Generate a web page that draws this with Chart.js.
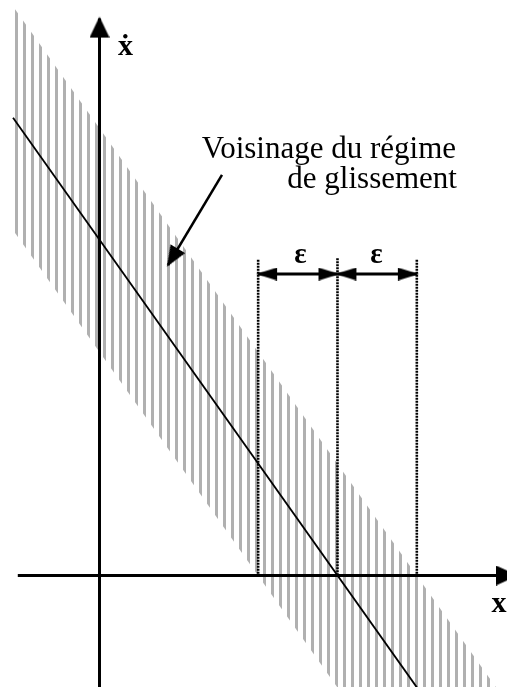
<!DOCTYPE html>
<html><head><meta charset="utf-8">
<script src="https://cdn.jsdelivr.net/npm/chart.js@4/dist/chart.umd.min.js"></script>
<style>html,body{margin:0;padding:0;background:#fff;}canvas{display:block;}</style>
</head><body>
<canvas id="c" width="507" height="687"></canvas>
<script>
// ---- data (units of epsilon) ----
const slidingLineX = [-1.09, 4.0];          // s = 0 : xdot = -1.41 (x - 3)
const slidingLineY = [5.77, -1.41];
const bandX = [-1.08, 5.14];
const bandUpperY = [7.16, -1.61];           // s = +eps
const bandLowerY = [4.34, -4.43];           // s = -eps
const epsBoundsX = [2, 3, 4];
const epsBoundsTop = [3.98, 4.0, 3.98];
const epsArrowY = 3.80;
const xAxisX = [-1.03, 5.25];
const yAxisY = [-1.41, 7.02];
const pointerFrom = [1.544, 5.049];
const pointerTo = [0.8635, 3.914];
const noteTexts = ['Voisinage du régime', 'de glissement', 'ε', 'ε', 'ẋ', 'x'];

// ---- view ----
const PX = 79.33, OX = 99.5, OY = 575.5, W = 507, H = 687;
const XMIN = -OX / PX, XMAX = (W - OX) / PX, YMIN = -(H - OY) / PX, YMAX = OY / PX;

function arrowImg(L, Hh, t) {
  const c = document.createElement('canvas');
  c.width = 2 * L + 2 * t; c.height = Hh;
  const g = c.getContext('2d');
  const cx = c.width / 2;
  g.fillStyle = '#000';
  g.beginPath();
  g.moveTo(cx + t - L, 0);
  g.lineTo(cx + t, Hh / 2);
  g.lineTo(cx + t - L, Hh);
  g.closePath();
  g.fill();
  return c;
}
const axisHead = arrowImg(21, 20, 2);
const xHead = arrowImg(22, 20, 2);
const epsHead = arrowImg(21, 13, 2);
const ptrHead = arrowImg(21, 17, 2);

function stripePattern() {
  const c = document.createElement('canvas');
  c.width = 8; c.height = 8;
  const g = c.getContext('2d');
  g.fillStyle = 'rgb(176,176,176)';
  g.fillRect(7, 0, 1, 8);
  g.fillRect(0, 0, 2, 8);
  return document.getElementById('c').getContext('2d').createPattern(c, 'repeat');
}

const pts = (xs, ys) => xs.map((v, i) => ({x: v, y: ys[i]}));
const base = {borderColor: '#000', pointRadius: 0, fill: false, tension: 0};

const datasets = [];
// pointer arrow
datasets.push(Object.assign({}, base, {
  data: [{x: pointerFrom[0], y: pointerFrom[1]}, {x: pointerTo[0], y: pointerTo[1]}],
  borderWidth: 2.5, pointRadius: [0, 15], pointStyle: [false, ptrHead], pointRotation: [0, 121]
}));
// epsilon arrows
for (let k = 0; k < 2; k++) {
  datasets.push(Object.assign({}, base, {
    data: [{x: epsBoundsX[k], y: epsArrowY}, {x: epsBoundsX[k + 1], y: epsArrowY}],
    borderWidth: 3, pointRadius: [15, 15], pointStyle: [epsHead, epsHead], pointRotation: [180, 0]
  }));
}
// axes
datasets.push(Object.assign({}, base, {
  data: [{x: xAxisX[0], y: 0}, {x: xAxisX[1], y: 0}],
  borderWidth: 3, pointRadius: [0, 25], pointStyle: [false, xHead], pointRotation: [0, 0]
}));
datasets.push(Object.assign({}, base, {
  data: [{x: 0, y: yAxisY[0]}, {x: 0, y: yAxisY[1]}],
  borderWidth: 3, pointRadius: [0, 25], pointStyle: [false, axisHead], pointRotation: [0, -90]
}));
// sliding line
datasets.push(Object.assign({}, base, {data: pts(slidingLineX, slidingLineY), borderWidth: 1.8}));
// dotted boundaries
epsBoundsX.forEach((bx, i) => {
  datasets.push(Object.assign({}, base, {
    data: [{x: bx, y: epsBoundsTop[i]}, {x: bx, y: 0}],
    borderWidth: 2.6, borderDash: [2, 1]
  }));
});
// band
datasets.push(Object.assign({}, base, {
  data: pts(bandX, bandUpperY), borderWidth: 0, borderColor: 'rgba(0,0,0,0)',
  fill: '+1', backgroundColor: stripePattern()
}));
datasets.push(Object.assign({}, base, {
  data: pts(bandX, bandLowerY), borderWidth: 0, borderColor: 'rgba(0,0,0,0)'
}));

const notesPlugin = {
  id: 'notes',
  afterDatasetsDraw(chart, args, opts) {
    const {ctx} = chart; const sx = chart.scales.x, sy = chart.scales.y;
    ctx.save();
    for (const n of opts.items) {
      ctx.font = n.font; ctx.fillStyle = '#000';
      ctx.textAlign = n.align; ctx.textBaseline = 'alphabetic';
      ctx.fillText(n.text, sx.getPixelForValue(n.x), sy.getPixelForValue(n.y));
    }
    ctx.restore();
  }
};

const serif = '"Liberation Serif", "Times New Roman", "DejaVu Serif", serif';
new Chart(document.getElementById('c'), {
  type: 'line',
  data: {datasets},
  options: {
    responsive: false, maintainAspectRatio: false, devicePixelRatio: 1,
    animation: false, events: [],
    layout: {padding: 0, autoPadding: false},
    scales: {
      x: {type: 'linear', display: false, min: XMIN, max: XMAX},
      y: {type: 'linear', display: false, min: YMIN, max: YMAX}
    },
    plugins: {
      legend: {display: false}, tooltip: {enabled: false},
      notes: {items: [
        {text: noteTexts[0], x: 4.494, y: 5.263, align: 'right', font: '31px ' + serif},
        {text: noteTexts[1], x: 4.506, y: 4.885, align: 'right', font: '31px ' + serif},
        {text: noteTexts[2], x: 2.534, y: 3.939, align: 'center', font: 'bold 29px ' + serif},
        {text: noteTexts[3], x: 3.492, y: 3.939, align: 'center', font: 'bold 29px ' + serif},
        {text: noteTexts[4], x: 0.328, y: 6.561, align: 'center', font: 'bold 30px ' + serif},
        {text: noteTexts[5], x: 5.036, y: -0.46, align: 'center', font: 'bold 30px ' + serif}
      ]}
    }
  },
  plugins: [notesPlugin]
});
</script></body></html>
